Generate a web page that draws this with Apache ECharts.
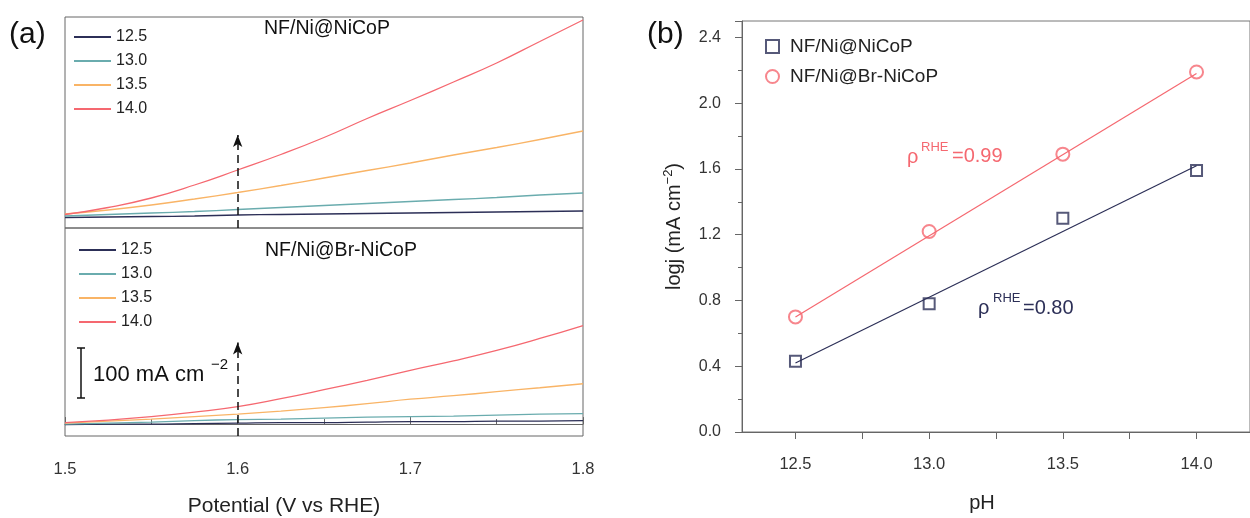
<!DOCTYPE html>
<html>
<head>
<meta charset="utf-8">
<title>index</title>
<style>
  html, body { margin: 0; padding: 0; background: #fff; }
  #container { width: 1250px; height: 518px; }
</style>
</head>
<body>
<div id="container"></div>
<script src="https://cdn.jsdelivr.net/npm/echarts@6/dist/echarts.min.js"></script>
<script type="text/javascript">
    var dom = document.getElementById("container");
    var myChart = echarts.init(dom);
    var FONT = 'Liberation Sans, Arial, sans-serif';

    // (a) LSV curves, current density in mA cm-2
    var potential = [1.500, 1.525, 1.550, 1.575, 1.600, 1.625, 1.650, 1.675, 1.700, 1.725, 1.750, 1.775, 1.800];
    var phNames = ['12.5', '13.0', '13.5', '14.0'];
    var lineColors = ['#2c2f57', '#6aacae', '#f9b466', '#f56870'];

    // NF/Ni@NiCoP
    var niCoP_125 = [-1, 0, 1, 2, 4, 5, 6, 7, 8, 9, 10, 11, 12];
    var niCoP_130 = [2, 5, 8, 11, 15, 19, 23, 27, 31, 35, 39, 44, 48];
    var niCoP_135 = [6, 14, 24, 36, 49, 63, 78, 93, 108, 124, 139, 155, 172];
    var niCoP_140 = [5, 19, 38, 64, 94, 125, 159, 197, 233, 270, 308, 351, 394];
    // NF/Ni@Br-NiCoP
    var brNiCoP_125 = [-1, 0, 0, 1, 2, 3, 3, 4, 5, 5, 6, 6, 7];
    var brNiCoP_130 = [0, 2, 4, 7, 9, 10, 12, 14, 15, 16, 18, 20, 21];
    var brNiCoP_135 = [2, 6, 10, 15, 20, 26, 33, 41, 50, 57, 65, 73, 81];
    var brNiCoP_140 = [3, 8, 15, 24, 35, 51, 69, 88, 108, 127, 148, 172, 198];

    // (b) logj vs pH
    var phValues = [12.5, 13.0, 13.5, 14.0];
    var logjNiCoP = [0.43, 0.78, 1.30, 1.59];
    var logjBrNiCoP = [0.70, 1.22, 1.69, 2.19];
    var fitPh = [12.5, 14.0];
    var fitNiCoP = [0.42, 1.62];
    var fitBrNiCoP = [0.70, 2.18];

    function pairs(xs, ys) {
        return xs.map(function (x, i) { return [x, ys[i]]; });
    }

    // dashed arrow at 1.6 V
    var arrowLine = function (yFrom, yTo) {
        return {
            silent: true,
            symbol: ['none', 'arrow'],
            symbolSize: [7, 12],
            label: { show: false },
            lineStyle: { color: '#111', type: [8, 5], width: 1.5 },
            data: [[{ coord: [1.6, yFrom] }, { coord: [1.6, yTo] }]]
        };
    };

    var series = [];
    var topSets = [niCoP_125, niCoP_130, niCoP_135, niCoP_140];
    var botSets = [brNiCoP_125, brNiCoP_130, brNiCoP_135, brNiCoP_140];
    topSets.forEach(function (vals, i) {
        series.push({
            name: phNames[i], type: 'line', xAxisIndex: 0, yAxisIndex: 0,
            data: pairs(potential, vals), smooth: true, symbol: 'none',
            lineStyle: { color: lineColors[i], width: 1.3 }, itemStyle: { color: lineColors[i] },
            markLine: i === 0 ? arrowLine(-22, 164) : undefined
        });
    });
    botSets.forEach(function (vals, i) {
        series.push({
            name: phNames[i], type: 'line', xAxisIndex: 1, yAxisIndex: 1,
            data: pairs(potential, vals), smooth: true, symbol: 'none',
            lineStyle: { color: lineColors[i], width: 1.3 }, itemStyle: { color: lineColors[i] },
            markLine: i === 0 ? arrowLine(-24, 164) : undefined
        });
    });

    // fit lines and points of (b)
    series.push({
        name: 'fit1', type: 'line', xAxisIndex: 2, yAxisIndex: 2, symbol: 'none',
        data: pairs(fitPh, fitNiCoP), lineStyle: { color: '#2c2f57', width: 1.2 }
    });
    series.push({
        name: 'fit2', type: 'line', xAxisIndex: 2, yAxisIndex: 2, symbol: 'none',
        data: pairs(fitPh, fitBrNiCoP), lineStyle: { color: '#f56870', width: 1.2 }
    });
    series.push({
        name: 'NF/Ni@NiCoP', type: 'scatter', xAxisIndex: 2, yAxisIndex: 2,
        symbol: 'emptyRect', symbolSize: 11, data: pairs(phValues, logjNiCoP),
        itemStyle: { color: '#2c2f57', borderWidth: 1.5 }
    });
    series.push({
        name: 'NF/Ni@Br-NiCoP', type: 'scatter', xAxisIndex: 2, yAxisIndex: 2,
        symbol: 'emptyCircle', symbolSize: 13, data: pairs(phValues, logjBrNiCoP),
        itemStyle: { color: '#f56870', borderWidth: 1.5 }
    });

    var legendA = {
        orient: 'vertical', itemWidth: 37, itemHeight: 14, itemGap: 8,
        itemStyle: { opacity: 0 },
        textStyle: { fontFamily: FONT, fontSize: 16, color: '#222' },
        data: phNames
    };

    option = {
        backgroundColor: '#fff',
        animation: false,
        textStyle: { fontFamily: FONT },
        legend: [
            Object.assign({}, legendA, { left: 68, top: 24 }),
            Object.assign({}, legendA, { left: 73, top: 237 }),
            {
                orient: 'vertical', left: 760, top: 32, itemWidth: 13, itemHeight: 13, itemGap: 11,
                textStyle: { fontFamily: FONT, fontSize: 19, color: '#222', padding: [0, 0, 0, 6] },
                data: ['NF/Ni@NiCoP', 'NF/Ni@Br-NiCoP']
            }
        ],
        grid: [
            { left: 65, top: 17, width: 518, height: 211, show: true, borderColor: '#666', borderWidth: 1 },
            { left: 65, top: 228, width: 518, height: 209, show: true, borderColor: '#666', borderWidth: 1 },
            { left: 742, top: 21, right: -13, bottom: 80, show: true, borderColor: '#777', borderWidth: 1 }
        ],
        xAxis: [
            { gridIndex: 0, type: 'value', min: 1.5, max: 1.8, show: false },
            {
                gridIndex: 1, type: 'value', min: 1.5, max: 1.8, interval: 0.1,
                axisLine: { lineStyle: { color: '#666' } },
                axisTick: { inside: true, length: 7, lineStyle: { color: '#666' } },
                minorTick: { show: true, splitNumber: 2, length: 5, lineStyle: { color: '#666' } },
                splitLine: { show: false },
                axisLabel: { margin: 25, fontSize: 16.5, color: '#333', formatter: function (v) { return v.toFixed(1); } },
                name: 'Potential (V vs RHE)', nameLocation: 'middle', nameGap: 60,
                nameTextStyle: { fontSize: 21, color: '#222', padding: [0, 80, 0, 0] }
            },
            {
                gridIndex: 2, type: 'value', min: 12.3, max: 14.2,
                axisLine: { onZero: false, lineStyle: { color: '#666' } },
                axisTick: { length: 7, customValues: [12.5, 12.75, 13.0, 13.25, 13.5, 13.75, 14.0], lineStyle: { color: '#666' } },
                splitLine: { show: false },
                axisLabel: {
                    margin: 24, fontSize: 16.5, color: '#333', customValues: [12.5, 13.0, 13.5, 14.0],
                    formatter: function (v) { return v.toFixed(1); }
                },
                name: 'pH', nameLocation: 'middle', nameGap: 61,
                nameTextStyle: { fontSize: 20, color: '#222', padding: [0, 28, 0, 0] }
            }
        ],
        yAxis: [
            { gridIndex: 0, type: 'value', min: -22, max: 400, show: false },
            { gridIndex: 1, type: 'value', min: -24, max: 394, show: false },
            {
                gridIndex: 2, type: 'value', min: 0, max: 2.5, interval: 0.4,
                axisLine: { show: true, onZero: false, lineStyle: { color: '#666' } },
                axisTick: { show: true, length: 7, lineStyle: { color: '#666' } },
                minorTick: { show: true, splitNumber: 2, length: 4, lineStyle: { color: '#666' } },
                splitLine: { show: false },
                axisLabel: {
                    margin: 21, fontSize: 16, color: '#333', showMaxLabel: false,
                    formatter: function (v) { return v.toFixed(1); }
                },
                name: '{a|logj (mA cm}{s|−2}{a|)}', nameLocation: 'middle', nameGap: 56,
                nameTextStyle: {
                    color: '#222',
                    rich: {
                        a: { fontSize: 20, fontFamily: FONT, color: '#222', lineHeight: 24 },
                        s: { fontSize: 13, fontFamily: FONT, color: '#222', verticalAlign: 'top', lineHeight: 24 }
                    }
                }
            }
        ],
        graphic: [
            { type: 'text', left: 9, top: 20, style: { text: '(a)', font: '30px ' + FONT, fill: '#111' } },
            { type: 'text', left: 647, top: 20, style: { text: '(b)', font: '30px ' + FONT, fill: '#111' } },
            { type: 'text', left: 264, top: 19, style: { text: 'NF/Ni@NiCoP', font: '19.5px ' + FONT, fill: '#111' } },
            { type: 'text', left: 265, top: 241, style: { text: 'NF/Ni@Br-NiCoP', font: '19.5px ' + FONT, fill: '#111' } },
            // scale bar
            { type: 'line', shape: { x1: 81, y1: 348, x2: 81, y2: 398 }, style: { stroke: '#111', lineWidth: 1.5 } },
            { type: 'line', shape: { x1: 77, y1: 348, x2: 85, y2: 348 }, style: { stroke: '#111', lineWidth: 1.5 } },
            { type: 'line', shape: { x1: 77, y1: 398, x2: 85, y2: 398 }, style: { stroke: '#111', lineWidth: 1.5 } },
            { type: 'text', left: 93, top: 364, style: { text: '100 mA cm', font: '22px ' + FONT, fill: '#111' } },
            { type: 'text', left: 211, top: 357, style: { text: '−2', font: '15px ' + FONT, fill: '#111' } },
            // rho annotations
            { type: 'text', left: 907, top: 147, style: { text: 'ρ', font: '20px ' + FONT, fill: '#f56870' } },
            { type: 'text', left: 921, top: 141, style: { text: 'RHE', font: '13px ' + FONT, fill: '#f56870' } },
            { type: 'text', left: 952, top: 146, style: { text: '=0.99', font: '20px ' + FONT, fill: '#f56870' } },
            { type: 'text', left: 978, top: 298, style: { text: 'ρ', font: '20px ' + FONT, fill: '#2c2f57' } },
            { type: 'text', left: 993, top: 292, style: { text: 'RHE', font: '13px ' + FONT, fill: '#2c2f57' } },
            { type: 'text', left: 1023, top: 298, style: { text: '=0.80', font: '20px ' + FONT, fill: '#2c2f57' } }
        ],
        series: series
    };
    if (option && typeof option === "object") {
        myChart.setOption(option, true);
    }
</script>
</body>
</html>
